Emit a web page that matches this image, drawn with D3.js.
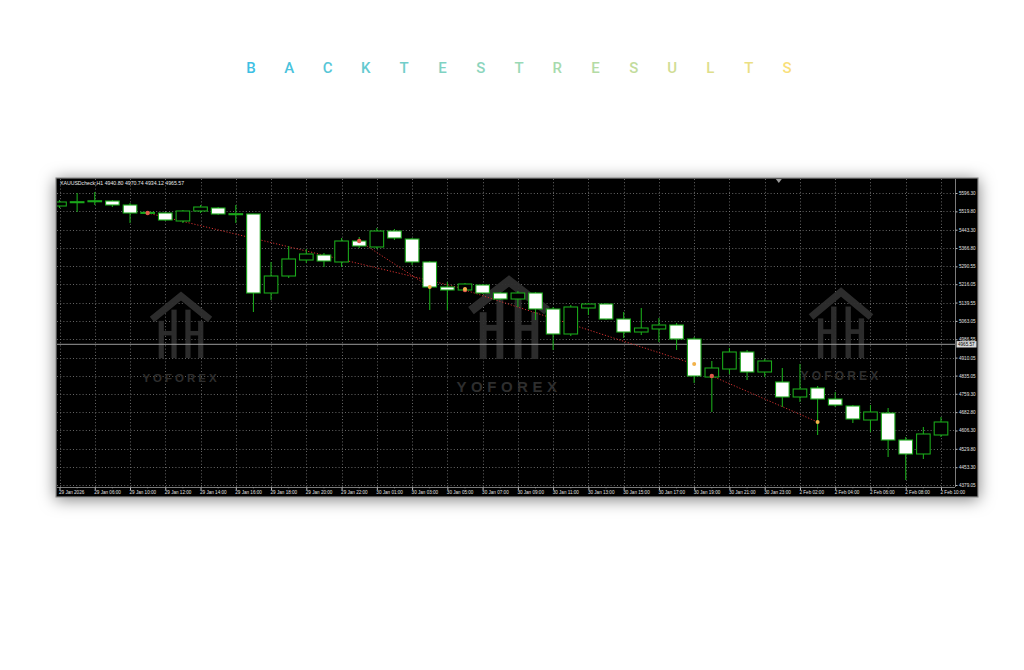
<!DOCTYPE html>
<html>
<head>
<meta charset="utf-8">
<script src="https://cdn.jsdelivr.net/npm/d3@7"></script>
<style>
  html, body { margin: 0; padding: 0; background: #ffffff; }
  svg { display: block; }
</style>
</head>
<body>
<svg id="chart" width="1024" height="670"></svg>
<script>
// ---------------- DATA ----------------
const titleText = "BACKTESTRESULTS";
const headerText = "XAUUSDcheck,H1  4940.80 4970.74 4934.12 4965.57";
const currentPrice = 4965.57;

const timeLabels = [
  "29 Jan 2026", "29 Jan 06:00", "29 Jan 10:00", "29 Jan 12:00", "29 Jan 14:00",
  "29 Jan 16:00", "29 Jan 18:00", "29 Jan 20:00", "29 Jan 22:00",
  "30 Jan 01:00", "30 Jan 03:00", "30 Jan 05:00", "30 Jan 07:00", "30 Jan 09:00",
  "30 Jan 11:00", "30 Jan 13:00", "30 Jan 15:00", "30 Jan 17:00", "30 Jan 19:00",
  "30 Jan 21:00", "30 Jan 23:00",
  "2 Feb 02:00", "2 Feb 04:00", "2 Feb 06:00", "2 Feb 08:00", "2 Feb 10:00"
];

const priceTicks = [
  5596.30, 5519.80, 5443.30, 5366.80, 5290.55, 5216.05, 5139.55, 5063.05,
  4986.55, 4910.05, 4835.05, 4759.30, 4682.80, 4606.30, 4529.80, 4453.30, 4379.05
];

const opens = [
  5542.1, 5558.8, 5562.9, 5562.9, 5546.3, 5513.0, 5512.9, 5479.6, 5521.3, 5533.8,
  5508.8, 5508.8, 5179.4, 5250.3, 5317.0, 5337.8, 5308.7, 5396.2, 5371.2, 5437.9,
  5404.5, 5308.7, 5204.4, 5191.9, 5212.8, 5179.4, 5154.4, 5179.4, 5112.7, 5008.5,
  5116.9, 5133.6, 5071.0, 5016.8, 5029.4, 5046.0, 4987.7, 4829.2, 4862.6, 4933.5,
  4850.1, 4808.4, 4745.9, 4783.4, 4737.5, 4708.4, 4650.0, 4679.2, 4566.6, 4508.3,
  4587.5
];
const highs = [
  5567.1, 5596.3, 5600.5, 5567.1, 5554.6, 5521.0, 5517.1, 5525.4, 5546.3, 5537.9,
  5546.3, 5510.0, 5308.7, 5375.4, 5362.9, 5346.2, 5408.7, 5412.9, 5450.4, 5446.2,
  5408.7, 5312.9, 5225.3, 5221.1, 5216.9, 5183.6, 5187.8, 5183.6, 5121.1, 5129.4,
  5137.7, 5137.7, 5100.2, 5116.9, 5075.2, 5054.4, 4996.0, 4896.1, 4950.1, 4941.8,
  4904.3, 4866.8, 4883.4, 4791.7, 4766.7, 4712.5, 4712.5, 4700.0, 4579.1, 4620.8,
  4662.5
];
const lows = [
  5533.8, 5517.1, 5546.3, 5537.9, 5471.2, 5505.0, 5479.6, 5471.2, 5512.9, 5504.6,
  5471.2, 5100.2, 5150.2, 5242.0, 5304.5, 5287.8, 5287.8, 5367.0, 5362.9, 5400.4,
  5296.2, 5108.5, 5108.5, 5183.6, 5175.3, 5150.2, 5121.1, 5066.9, 4941.8, 5000.2,
  5087.7, 5066.9, 4991.8, 5004.3, 4975.1, 4941.8, 4804.2, 4683.4, 4841.8, 4816.8,
  4829.2, 4704.2, 4725.0, 4587.5, 4704.2, 4637.5, 4600.0, 4495.8, 4399.9, 4487.4,
  4579.1
];
const closes = [
  5558.8, 5560.0, 5564.0, 5546.3, 5512.9, 5515.5, 5483.7, 5521.3, 5537.9, 5508.8,
  5510.0, 5179.4, 5250.3, 5321.2, 5342.0, 5312.8, 5396.2, 5375.4, 5437.9, 5408.7,
  5308.7, 5204.4, 5191.9, 5216.9, 5179.4, 5154.4, 5179.4, 5112.7, 5008.5, 5121.1,
  5133.6, 5071.0, 5016.8, 5033.5, 5046.0, 4987.7, 4833.4, 4866.8, 4933.5, 4850.1,
  4896.0, 4745.9, 4779.2, 4737.5, 4712.5, 4654.2, 4683.4, 4566.6, 4508.3, 4591.7,
  4641.7
];

// trade lines: bar index + price at open / close
const tradeOpenIdx   = [5, 17, 23, 37];
const tradeOpenPx    = [5512.9, 5396.2, 5191.9, 4833.4];
const tradeCloseIdx  = [23, 21, 36, 43];
const tradeClosePx   = [5196.1, 5204.4, 4883.4, 4641.7];

const watermarkLabel = "YOFOREX";

// ---------------- LAYOUT ----------------
const svg = d3.select("#chart");
const frame = { x0: 56, y0: 178, x1: 978, y1: 497 };
const plot = { x0: 57, y0: 179, x1: 955, y1: 487 };

const defs = svg.append("defs");
const f = defs.append("filter").attr("id", "shadow")
  .attr("x", "-10%").attr("y", "-30%").attr("width", "120%").attr("height", "160%");
f.append("feDropShadow").attr("dx", 0).attr("dy", 2).attr("stdDeviation", 8)
  .attr("flood-color", "#000").attr("flood-opacity", 0.5);
defs.append("clipPath").attr("id", "plotclip").append("rect")
  .attr("x", plot.x0).attr("y", plot.y0)
  .attr("width", plot.x1 - plot.x0).attr("height", plot.y1 - plot.y0);

// ---------------- TITLE ----------------
const letters = titleText.split("");
const tx = d3.scalePoint().domain(d3.range(letters.length)).range([251, 787]);
const tc = d3.scaleLinear().domain([0, 0.5, 1]).range(["#3dbfe4", "#99d9b6", "#f9e07a"])
  .interpolate(d3.interpolateRgb);
svg.append("g").selectAll("text").data(letters).join("text")
  .attr("x", (d, i) => tx(i)).attr("y", 73)
  .attr("text-anchor", "middle")
  .attr("font-family", "Roboto, 'Open Sans', sans-serif")
  .attr("font-size", 15).attr("font-weight", 500)
  .attr("fill", (d, i) => tc(i / (letters.length - 1)))
  .text(d => d);

// ---------------- FRAME ----------------
svg.append("rect")
  .attr("x", frame.x0).attr("y", frame.y0)
  .attr("width", frame.x1 - frame.x0).attr("height", frame.y1 - frame.y0)
  .attr("fill", "#000").attr("stroke", "#8a8a8a").attr("stroke-width", 1.2)
  .attr("filter", "url(#shadow)");

// ---------------- SCALES ----------------
const x = d3.scaleLinear().domain([0, opens.length - 1]).range([59.5, 941]);
const y = d3.scaleLinear().domain([4379.05, 5596.30]).range([485, 193]);
const bodyW = 13.6;

const g = svg.append("g").attr("clip-path", "url(#plotclip)");

// grid
g.append("g").selectAll("line").data(priceTicks).join("line")
  .attr("x1", plot.x0).attr("x2", plot.x1)
  .attr("y1", d => Math.round(y(d)) + 0.5).attr("y2", d => Math.round(y(d)) + 0.5)
  .attr("stroke", "#808080").attr("stroke-width", 0.8).attr("stroke-dasharray", "1,2.2");
g.append("g").selectAll("line").data(timeLabels).join("line")
  .attr("x1", (d, i) => Math.round(x(i * 2)) + 0.5).attr("x2", (d, i) => Math.round(x(i * 2)) + 0.5)
  .attr("y1", plot.y0).attr("y2", plot.y1)
  .attr("stroke", "#808080").attr("stroke-width", 0.8).attr("stroke-dasharray", "1,2.2");

// watermarks
function watermark(cx, apexY, w, h, textY, fs, ls) {
  const wg = g.append("g").attr("fill", "none").attr("stroke", "#2f2f2f").attr("opacity", 0.95);
  const sw = w * 0.12;
  wg.append("path")
    .attr("d", `M${cx - w / 2},${apexY + h * 0.38} L${cx},${apexY} L${cx + w / 2},${apexY + h * 0.38}`)
    .attr("stroke-width", sw).attr("stroke-linejoin", "miter");
  const cols = [-0.34, -0.12, 0.12, 0.34];
  cols.forEach((c, k) => {
    const top = (k === 0 || k === 3) ? apexY + h * 0.4 : apexY + h * 0.22;
    wg.append("line").attr("x1", cx + c * w).attr("x2", cx + c * w)
      .attr("y1", top).attr("y2", apexY + h).attr("stroke-width", sw * 0.75);
  });
  wg.append("line").attr("x1", cx - 0.34 * w).attr("x2", cx - 0.12 * w)
    .attr("y1", apexY + h * 0.6).attr("y2", apexY + h * 0.6).attr("stroke-width", sw * 0.65);
  wg.append("line").attr("x1", cx + 0.12 * w).attr("x2", cx + 0.34 * w)
    .attr("y1", apexY + h * 0.6).attr("y2", apexY + h * 0.6).attr("stroke-width", sw * 0.65);
  g.append("text").attr("x", cx).attr("y", textY).attr("text-anchor", "middle")
    .attr("font-family", "'Liberation Sans', Arial, sans-serif").attr("font-weight", "bold")
    .attr("font-size", fs).attr("letter-spacing", ls).attr("fill", "#2e2e2e")
    .text(watermarkLabel);
}
watermark(181, 296, 58, 62, 382, 11.5, 3);
watermark(509, 281, 76, 78, 392, 15, 4.5);
watermark(841, 292, 60, 66, 380, 12, 3.2);

// current price line
g.append("line")
  .attr("x1", plot.x0).attr("x2", plot.x1)
  .attr("y1", y(currentPrice)).attr("y2", y(currentPrice))
  .attr("stroke", "#9a9a9a").attr("stroke-width", 1);

// trade lines
const tradeIdx = d3.range(tradeOpenIdx.length);
g.append("g").selectAll("line").data(tradeIdx).join("line")
  .attr("x1", i => x(tradeOpenIdx[i])).attr("y1", i => y(tradeOpenPx[i]))
  .attr("x2", i => x(tradeCloseIdx[i])).attr("y2", i => y(tradeClosePx[i]))
  .attr("stroke", "#d0302f").attr("stroke-width", 1).attr("stroke-dasharray", "1.2,1.8");

// candles
const candles = g.append("g").selectAll("g").data(opens.map((o, i) => i)).join("g");
candles.append("line")
  .attr("x1", i => x(i)).attr("x2", i => x(i))
  .attr("y1", i => y(highs[i])).attr("y2", i => y(lows[i]))
  .attr("stroke", "#1aa81a").attr("stroke-width", 1.1);
candles.append("rect")
  .attr("x", i => x(i) - bodyW / 2)
  .attr("y", i => y(Math.max(opens[i], closes[i])))
  .attr("width", bodyW)
  .attr("height", i => Math.max(1, Math.abs(y(opens[i]) - y(closes[i]))))
  .attr("fill", i => closes[i] >= opens[i] ? "#000" : "#ffffff")
  .attr("stroke", "#1aa81a").attr("stroke-width", 1.1);

// trade markers
g.append("g").selectAll("circle").data(tradeIdx).join("circle")
  .attr("cx", i => x(tradeOpenIdx[i])).attr("cy", i => y(tradeOpenPx[i]))
  .attr("r", 2.2).attr("fill", "#e0584a");
g.append("g").selectAll("circle").data(tradeIdx).join("circle")
  .attr("cx", i => x(tradeCloseIdx[i])).attr("cy", i => y(tradeClosePx[i]))
  .attr("r", 2).attr("fill", "#f2b24a");

// header text
svg.append("text").attr("x", 60).attr("y", 185)
  .attr("font-family", "'Liberation Sans', Arial, sans-serif")
  .attr("font-size", 5.2).attr("fill", "#e8e8e8")
  .text(headerText);

// shift marker
svg.append("path")
  .attr("d", `M${x(40.8) - 3},179 L${x(40.8) + 3},179 L${x(40.8)},183 Z`)
  .attr("fill", "#9a9a9a");

// ---------------- AXES ----------------
svg.append("line").attr("x1", plot.x1 + 0.5).attr("x2", plot.x1 + 0.5)
  .attr("y1", plot.y0).attr("y2", plot.y1).attr("stroke", "#9a9a9a").attr("stroke-width", 0.8);
const yAxis = d3.axisRight(y).tickValues(priceTicks).tickSize(2).tickPadding(1.5)
  .tickFormat(d3.format(".2f"));
const yg = svg.append("g").attr("transform", `translate(${plot.x1 + 0.5},0)`).call(yAxis);
yg.select(".domain").remove();
yg.selectAll("line").attr("stroke", "#bbb");
yg.selectAll("text").attr("font-family", "'Liberation Sans', Arial, sans-serif")
  .attr("font-size", 4.6).attr("fill", "#e0e0e0");

const cpY = y(currentPrice);
svg.append("rect").attr("x", plot.x1 + 1.5).attr("y", cpY - 3.2)
  .attr("width", 20).attr("height", 6.4).attr("fill", "#d8d8d8");
svg.append("text").attr("x", plot.x1 + 3).attr("y", cpY + 1.7)
  .attr("font-family", "'Liberation Sans', Arial, sans-serif")
  .attr("font-size", 4.6).attr("fill", "#000").text(currentPrice.toFixed(2));

svg.append("line").attr("x1", plot.x0).attr("x2", plot.x1)
  .attr("y1", plot.y1 + 0.5).attr("y2", plot.y1 + 0.5).attr("stroke", "#9a9a9a").attr("stroke-width", 0.8);
const xAxis = d3.axisBottom(x).tickValues(timeLabels.map((d, i) => i * 2))
  .tickSize(2.5).tickPadding(1).tickFormat((d) => timeLabels[d / 2]);
const xg = svg.append("g").attr("transform", `translate(0,${plot.y1 + 0.5})`).call(xAxis);
xg.select(".domain").remove();
xg.selectAll("line").attr("stroke", "#bbb");
xg.selectAll("text").attr("text-anchor", "start").attr("dx", -1)
  .attr("font-family", "'Liberation Sans', Arial, sans-serif")
  .attr("font-size", 4.6).attr("fill", "#e0e0e0");
svg.append("g").selectAll("line").data(d3.range(1, opens.length, 2)).join("line")
  .attr("x1", d => x(d)).attr("x2", d => x(d))
  .attr("y1", plot.y1).attr("y2", plot.y1 + 1.5)
  .attr("stroke", "#999").attr("stroke-width", 0.6);
</script>
</body>
</html>
